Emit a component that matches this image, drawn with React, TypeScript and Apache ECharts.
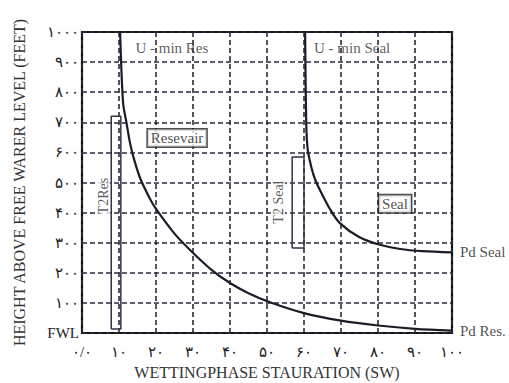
import React, { useEffect, useRef } from "react";
import * as echarts from "echarts";

const xTicks = [0, 10, 20, 30, 40, 50, 60, 70, 80, 90, 100];
const xTickLabels = ["۰/۰", "۱۰", "۲۰", "۳۰", "۴۰", "۵۰", "۶۰", "۷۰", "۸۰", "۹۰", "۱۰۰"];
const yTickLabels = ["FWL", "۱۰۰", "۲۰۰", "۳۰۰", "۴۰۰", "۵۰۰", "۶۰۰", "۷۰۰", "۸۰۰", "۹۰۰", "۱۰۰۰"];

const resX = [10.3, 11.1, 12, 13, 14, 15.7, 18.4, 20, 25, 29.2, 35, 40, 45, 50.8, 60, 70, 80, 90, 100];
const resY = [1000, 765, 700, 630, 580, 515, 445, 412, 330, 276, 210, 166, 132, 102, 66, 41, 25, 14, 8];

const sealX = [60.3, 60.6, 61, 62, 63, 64.3, 67, 69.7, 75, 80.5, 86, 92, 100];
const sealY = [1000, 700, 610, 550, 510, 475, 412, 365, 318, 293, 279, 272, 268];

const t2ResRectX = [7.9, 10.5, 10.5, 7.9, 7.9];
const t2ResRectY = [13, 13, 720, 720, 13];
const t2SealRectX = [56.8, 60, 60, 56.8, 56.8];
const t2SealRectY = [282, 282, 585, 585, 282];

const annotations = [
  { text: "U - min Res", x: 24.3, y: 947 },
  { text: "U - min Seal", x: 73, y: 947 },
];
const boxedLabels = [
  { text: "Resevair", x: 25.7, y: 648 },
  { text: "Seal", x: 84.6, y: 429 },
];
const rotatedLabels = [
  { text: "T2Res", x: 5.7, y: 455 },
  { text: "T2 Seal", x: 53, y: 435 },
];
const endLabels = [
  { text: "Pd Seal", x: 100, y: 268 },
  { text: "Pd Res.", x: 100, y: 6 },
];

const SERIF = "'Liberation Serif', 'DejaVu Serif', 'Times New Roman', serif";
const INK = "#1c1c28";

export default function App() {
  const ref = useRef<HTMLDivElement>(null);
  useEffect(() => {
    if (!ref.current) return;
    const chart = echarts.init(ref.current, undefined, { renderer: "svg" });
    const zip = (xs: number[], ys: number[]) => xs.map((x, i) => [x, ys[i]]);
    const labelSeries = (items: { text: string; x: number; y: number }[], label: any) => ({
      type: "scatter",
      symbolSize: 0,
      silent: true,
      data: items.map((d) => ({ value: [d.x, d.y], name: d.text })),
      label: { show: true, formatter: (p: any) => p.name, ...label },
      z: 10,
    });
    chart.setOption({
      animation: false,
      backgroundColor: "#ffffff",
      grid: {
        left: 82,
        right: 57,
        top: 32,
        bottom: 50,
        outerBoundsMode: "none",
        containLabel: false,
        show: true,
        borderColor: "#111111",
        borderWidth: 2.2,
        backgroundColor: "transparent",
      },
      xAxis: {
        type: "value",
        min: 0,
        max: 100,
        interval: 10,
        name: "WETTINGPHASE STAURATION (SW)",
        nameLocation: "middle",
        nameGap: 31,
        nameTextStyle: { fontFamily: SERIF, fontSize: 16, color: "#333" },
        axisLine: { show: false },
        axisTick: { show: false },
        axisLabel: {
          margin: 11,
          fontFamily: SERIF,
          fontSize: 15,
          color: "#222",
          formatter: (v: number) => xTickLabels[xTicks.indexOf(v)] ?? "",
        },
        splitLine: { show: true, lineStyle: { color: "#2a2a3c", width: 1.6, type: [5, 3] } },
      },
      yAxis: {
        type: "value",
        min: 0,
        max: 1000,
        interval: 100,
        name: "HEIGHT ABOVE FREE WARER LEVEL (FEET)",
        nameLocation: "middle",
        nameGap: 55,
        nameRotate: 90,
        nameTextStyle: { fontFamily: SERIF, fontSize: 16, color: "#333" },
        axisLine: { show: false },
        axisTick: { show: false },
        axisLabel: {
          margin: 3,
          fontFamily: SERIF,
          fontSize: 15,
          color: "#222",
          formatter: (v: number) => yTickLabels[Math.round(v / 100)] ?? "",
        },
        splitLine: { show: true, lineStyle: { color: "#2a2a3c", width: 1.6, type: [5, 3] } },
      },
      series: [
        {
          type: "line",
          data: zip(resX, resY),
          smooth: 0.3,
          symbol: "none",
          lineStyle: { color: INK, width: 2.2 },
          z: 5,
        },
        {
          type: "line",
          data: zip(sealX, sealY),
          smooth: 0.3,
          symbol: "none",
          lineStyle: { color: INK, width: 2.2 },
          z: 5,
        },
        {
          type: "line",
          data: zip(t2ResRectX, t2ResRectY),
          symbol: "none",
          lineStyle: { color: "#3a2f48", width: 1.5 },
          z: 4,
        },
        {
          type: "line",
          data: zip(t2SealRectX, t2SealRectY),
          symbol: "none",
          lineStyle: { color: "#3a2f48", width: 1.5 },
          z: 4,
        },
        labelSeries(annotations, {
          position: "inside",
          fontFamily: SERIF,
          fontSize: 15,
          color: "#333",
        }),
        labelSeries(boxedLabels, {
          position: "inside",
          fontFamily: SERIF,
          fontSize: 15,
          color: "#222",
          backgroundColor: "#fff",
          borderColor: "#222",
          borderWidth: 1.5,
          padding: [2, 3, 0, 3],
        }),
        labelSeries(rotatedLabels, {
          position: "inside",
          rotate: 90,
          fontFamily: SERIF,
          fontSize: 14,
          color: "#333",
          backgroundColor: "#fff",
          padding: [0, 1],
        }),
        labelSeries(endLabels, {
          position: "right",
          distance: 8,
          fontFamily: SERIF,
          fontSize: 15,
          color: "#222",
        }),
      ],
    });
    return () => chart.dispose();
  }, []);
  return <div ref={ref} style={{ width: 509, height: 383, position: "absolute", left: 0, top: 0 }} />;
}
